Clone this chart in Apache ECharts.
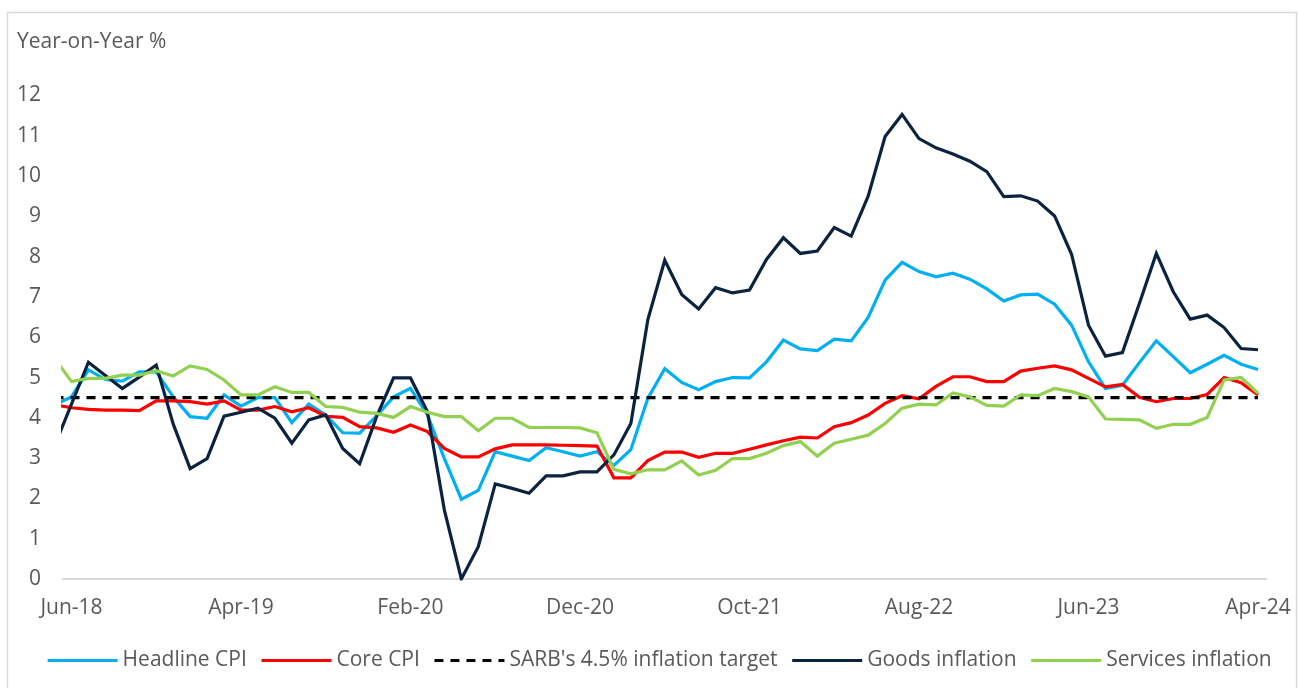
<!DOCTYPE html>
<html>
<head>
<meta charset="utf-8">
<script src="https://cdn.jsdelivr.net/npm/echarts@6/dist/echarts.min.js"></script>
<style>
  html, body { margin: 0; padding: 0; background: #ffffff; }
  #chart { width: 1298px; height: 688px; }
</style>
</head>
<body>
<div id="chart"></div>
<script>
// Months: first entry (May-18) only feeds the clipped line stub at the left edge
const months = [
  'May-18','Jun-18','Jul-18','Aug-18','Sep-18','Oct-18','Nov-18','Dec-18',
  'Jan-19','Feb-19','Mar-19','Apr-19','May-19','Jun-19','Jul-19','Aug-19','Sep-19','Oct-19','Nov-19','Dec-19',
  'Jan-20','Feb-20','Mar-20','Apr-20','May-20','Jun-20','Jul-20','Aug-20','Sep-20','Oct-20','Nov-20','Dec-20',
  'Jan-21','Feb-21','Mar-21','Apr-21','May-21','Jun-21','Jul-21','Aug-21','Sep-21','Oct-21','Nov-21','Dec-21',
  'Jan-22','Feb-22','Mar-22','Apr-22','May-22','Jun-22','Jul-22','Aug-22','Sep-22','Oct-22','Nov-22','Dec-22',
  'Jan-23','Feb-23','Mar-23','Apr-23','May-23','Jun-23','Jul-23','Aug-23','Sep-23','Oct-23','Nov-23','Dec-23',
  'Jan-24','Feb-24','Mar-24','Apr-24'
];
const xTickLabels = ['Jun-18','Apr-19','Feb-20','Dec-20','Oct-21','Aug-22','Jun-23','Apr-24'];

const headlineCPI = [
  4.32, 4.52,5.19,4.95,4.91,5.14,5.14,4.52,
  4.03,3.99,4.57,4.29,4.50,4.50,3.88,4.34,4.07,3.63,3.62,4.05,
  4.52,4.73,4.07,2.99,1.98,2.20,3.16,3.05,2.94,3.26,3.16,3.05,
  3.16,2.82,3.21,4.48,5.22,4.88,4.70,4.90,5.00,4.99,5.39,5.93,
  5.71,5.67,5.95,5.91,6.49,7.42,7.86,7.63,7.50,7.59,7.44,7.20,
  6.90,7.05,7.07,6.82,6.30,5.39,4.73,4.81,5.37,5.91,5.52,5.12,
  5.33,5.55,5.33,5.20
];
const coreCPI = [
  4.33, 4.25,4.21,4.19,4.19,4.18,4.42,4.42,
  4.40,4.34,4.42,4.19,4.19,4.28,4.15,4.25,4.04,4.01,3.78,3.75,
  3.64,3.82,3.66,3.24,3.03,3.03,3.23,3.33,3.33,3.33,3.32,3.31,
  3.30,2.51,2.51,2.94,3.15,3.15,3.02,3.12,3.12,3.22,3.33,3.43,
  3.52,3.50,3.78,3.88,4.07,4.36,4.55,4.47,4.78,5.02,5.02,4.90,
  4.90,5.16,5.23,5.29,5.19,4.98,4.77,4.83,4.51,4.40,4.48,4.48,
  4.58,5.00,4.87,4.57
];
const targetLevel = 4.5;
const goodsInflation = [
  3.30, 4.34,5.38,5.05,4.73,5.01,5.31,3.85,
  2.74,2.99,4.04,4.14,4.24,3.99,3.37,3.95,4.07,3.24,2.86,4.03,
  4.99,4.99,4.15,1.71,0.00,0.80,2.36,2.25,2.13,2.56,2.56,2.66,
  2.66,3.08,3.86,6.43,7.91,7.06,6.70,7.23,7.10,7.17,7.93,8.47,
  8.08,8.14,8.72,8.51,9.50,10.98,11.53,10.93,10.70,10.55,10.37,10.11,
  9.49,9.51,9.38,9.01,8.06,6.30,5.53,5.62,6.84,8.08,7.13,6.45,
  6.55,6.24,5.72,5.69
];
const servicesInflation = [
  5.48, 4.90,4.98,4.98,5.06,5.06,5.17,5.04,
  5.29,5.20,4.94,4.57,4.57,4.77,4.63,4.63,4.28,4.26,4.14,4.11,
  4.01,4.28,4.14,4.03,4.03,3.68,3.99,3.99,3.76,3.76,3.76,3.75,
  3.63,2.72,2.61,2.71,2.71,2.93,2.58,2.70,2.99,2.99,3.12,3.31,
  3.41,3.05,3.37,3.47,3.57,3.86,4.24,4.34,4.32,4.62,4.52,4.31,
  4.29,4.57,4.55,4.73,4.65,4.52,3.97,3.96,3.95,3.74,3.84,3.84,
  4.01,4.94,5.00,4.61
];

// position index: Jun-18 = 0, May-18 = -1
function pairs(values) { return values.map((v, i) => [i - 1, v]); }
const tickIdx = xTickLabels.map(l => months.indexOf(l) - 1);

const FONT = 'Open Sans';
const FS = 21;
const TXT = '#595959';

const chart = echarts.init(document.getElementById('chart'), null, { renderer: 'canvas' });
function lineSeries(name, values, color, extra) {
  return Object.assign({
    name: name,
    type: 'line',
    data: pairs(values),
    symbol: 'none',
    clip: true,
    lineStyle: { color: color, width: 3.2, cap: 'butt', join: 'miter' },
    itemStyle: { color: color },
    animation: false
  }, extra || {});
}

chart.setOption({
  backgroundColor: '#ffffff',
  animation: false,
  graphic: [
    { type: 'rect', left: 5, top: 10, shape: { width: 1289, height: 700 },
      style: { fill: 'none', stroke: '#d9d9d9', lineWidth: 1.5 }, silent: true },
    { type: 'text', left: 17, top: 32,
      style: { text: 'Year-on-Year %', fill: TXT, font: FS + 'px "Open Sans"' } }
  ],
  grid: { left: 63, right: 31.5, top: 95.5, bottom: 109, containLabel: false },
  xAxis: {
    type: 'value',
    min: -0.5,
    max: 70.5,
    axisLine: { show: true, lineStyle: { color: '#d9d9d9', width: 2 } },
    axisTick: { show: false },
    splitLine: { show: false },
    axisLabel: {
      customValues: tickIdx,
      formatter: function (v) { return months[Math.round(v) + 1]; },
      color: TXT, fontFamily: FONT, fontSize: FS, margin: 19,
      showMinLabel: true, showMaxLabel: true
    }
  },
  yAxis: {
    type: 'value',
    min: 0, max: 12, interval: 1,
    axisLine: { show: false },
    axisTick: { show: false },
    splitLine: { show: false },
    axisLabel: { color: TXT, fontFamily: FONT, fontSize: FS, margin: 22 }
  },
  legend: {
    left: 41, top: 645,
    itemWidth: 70, itemHeight: 14, itemGap: 13,
    itemStyle: { opacity: 0, borderWidth: 0 },
    lineStyle: { width: 3.2 },
    textStyle: { color: TXT, fontFamily: FONT, fontSize: FS },
    data: ['Headline CPI', 'Core CPI', "SARB's 4.5% inflation target", 'Goods inflation', 'Services inflation']
  },
  series: [
    lineSeries('Headline CPI', headlineCPI, '#00b0f0'),
    lineSeries('Core CPI', coreCPI, '#ff0000'),
    {
      name: "SARB's 4.5% inflation target",
      type: 'line',
      data: [[-1, targetLevel], [70, targetLevel]],
      symbol: 'none',
      clip: true,
      lineStyle: { color: '#000000', width: 3.2, type: [9, 7] },
      itemStyle: { color: '#000000' },
      animation: false
    },
    lineSeries('Goods inflation', goodsInflation, '#0c2340'),
    lineSeries('Services inflation', servicesInflation, '#92d050')
  ]
});
</script>
</body>
</html>
